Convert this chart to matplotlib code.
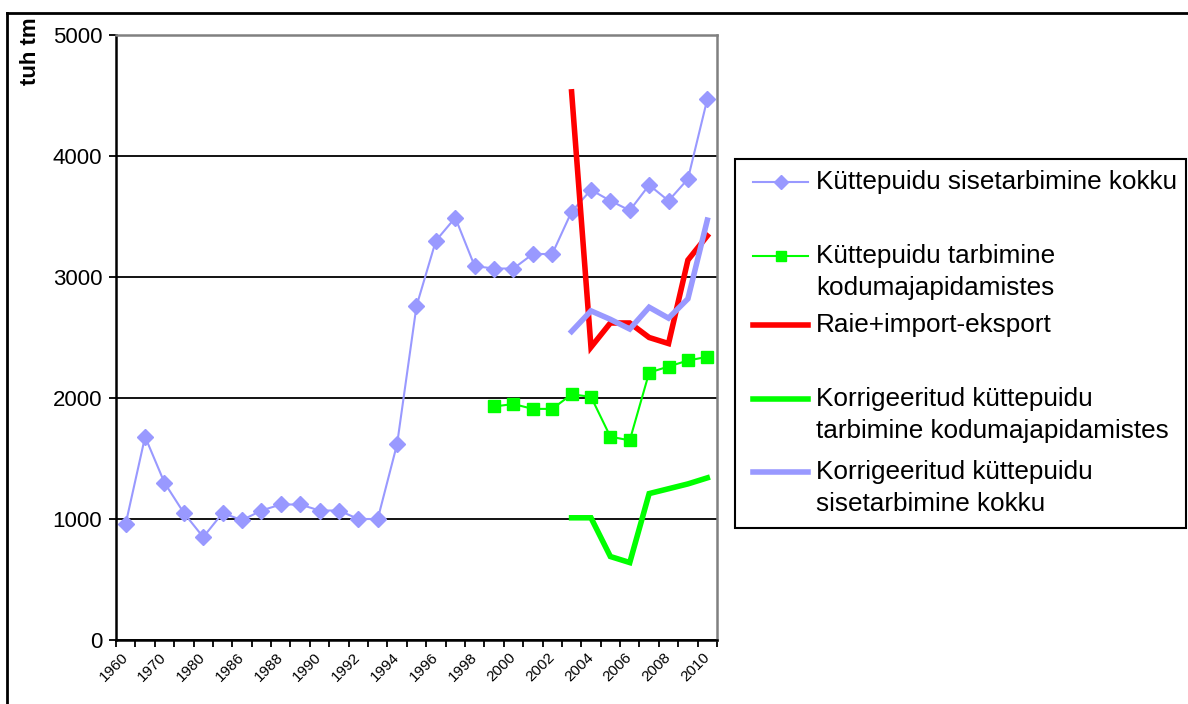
import numpy as np
import matplotlib.pyplot as plt
from matplotlib.lines import Line2D
from matplotlib.patches import Rectangle

plt.rcParams['font.family'] = ['Liberation Sans', 'DejaVu Sans']

# categories (labels shown on every other one)
years = [1960, 1965, 1970, 1975, 1980, 1985, 1986, 1987, 1988, 1989, 1990,
         1991, 1992, 1993, 1994, 1995, 1996, 1997, 1998, 1999, 2000, 2001,
         2002, 2003, 2004, 2005, 2006, 2007, 2008, 2009, 2010]

# tuh tm
total_use = [960, 1680, 1300, 1050, 850, 1050, 990, 1070, 1120, 1120, 1070,
             1070, 1000, 1000, 1620, 2760, 3300, 3490, 3090, 3070, 3070, 3190,
             3190, 3540, 3720, 3630, 3550, 3760, 3630, 3810, 4470]
household_use = [1930, 1950, 1910, 1910, 2030, 2010, 1680, 1650, 2210, 2260,
                 2310, 2340]                      # 1999-2010
felling_balance = [4530, 2420, 2620, 2620, 2500, 2450, 3140, 3340]  # 2003-2010
corr_household = [1010, 1010, 690, 640, 1210, 1250, 1290, 1340]     # 2003-2010
corr_total = [2550, 2720, 2650, 2570, 2750, 2660, 2820, 3470]       # 2003-2010

labels = ['Küttepuidu sisetarbimine kokku',
          'Küttepuidu tarbimine\nkodumajapidamistes',
          'Raie+import-eksport',
          'Korrigeeritud küttepuidu\ntarbimine kodumajapidamistes',
          'Korrigeeritud küttepuidu\nsisetarbimine kokku']

blue = '#9999FF'
green = '#00FF00'
red = '#FF0000'

W, H = 1188, 704
fig = plt.figure(figsize=(W / 100, H / 100), dpi=100)
ax = fig.add_axes([116 / W, 64 / H, 601 / W, 605 / H])

x = np.arange(len(years))
n = len(years)


def pad(vals):
    return np.array([np.nan] * (n - len(vals)) + vals, dtype=float)


ax.plot(x, total_use, color=blue, lw=1.5, marker='D', ms=8.5, zorder=3)
ax.plot(x, pad(household_use), color=green, lw=1.5, marker='s', ms=8, zorder=3)
ax.plot(x, pad(felling_balance), color=red, lw=4, zorder=4, solid_joinstyle='miter')
ax.plot(x, pad(corr_household), color=green, lw=4, zorder=4, solid_joinstyle='miter')
ax.plot(x, pad(corr_total), color=blue, lw=4, zorder=5, solid_joinstyle='miter')

ax.set_xlim(-0.5, n - 0.5)
ax.set_ylim(0, 5000)
ax.set_yticks(np.arange(0, 5001, 1000))
ax.yaxis.grid(True, color='black', lw=1.3)
ax.set_axisbelow(True)
ax.tick_params(axis='y', labelsize=16, length=5, width=1.3, pad=5, direction='out')

ax.set_xticks(np.arange(-0.5, n, 1))
ax.set_xticklabels([])
ax.tick_params(axis='x', which='major', length=5, width=1.3, direction='out')
ax.set_xticks(x[::2], minor=True)
ax.set_xticklabels([str(y) for y in years[::2]], minor=True, rotation=45,
                   ha='right', va='center', rotation_mode='anchor', fontsize=11)
ax.tick_params(axis='x', which='minor', length=0, pad=11)

for s in ['left', 'bottom']:
    ax.spines[s].set_color('black')
    ax.spines[s].set_linewidth(1.8)
for s in ['top', 'right']:
    ax.spines[s].set_color('#808080')
    ax.spines[s].set_linewidth(1.8)

fig.text(30 / W, 1 - 17 / H, 'tuh tm', rotation=90, ha='center', va='top',
         fontweight='bold', fontsize=16)

# outer chart frame (only left and top edges visible)
fig.add_artist(Line2D([7 / W, 7 / W], [0, 1 - 13 / H], transform=fig.transFigure,
                      color='black', lw=2))
fig.add_artist(Line2D([7 / W, 1], [1 - 13 / H, 1 - 13 / H], transform=fig.transFigure,
                      color='black', lw=2))

# legend drawn in pixel coordinates
lax = fig.add_axes([0, 0, 1, 1], zorder=10)
lax.set_xlim(0, W)
lax.set_ylim(H, 0)
lax.axis('off')
lax.add_patch(Rectangle((735, 159), 451, 369, fill=False, ec='black', lw=1.5))

handle_y = [182, 256, 325, 399, 472]
styles = [dict(color=blue, lw=1.5, marker='D', ms=7),
          dict(color=green, lw=1.5, marker='s', ms=7),
          dict(color=red, lw=4),
          dict(color=green, lw=4),
          dict(color=blue, lw=4)]
for hy, st, lab in zip(handle_y, styles, labels):
    lax.plot([753, 808], [hy, hy], **st, markevery=[])
    if 'marker' in st:
        lax.plot([780.5], [hy], linestyle='none', marker=st['marker'],
                 ms=st['ms'], color=st['color'])
    for k, line in enumerate(lab.split('\n')):
        lax.text(816, hy + 7 + k * 32.3, line, fontsize=18.8, va='baseline', ha='left')

fig.savefig('out.png', dpi=100)
